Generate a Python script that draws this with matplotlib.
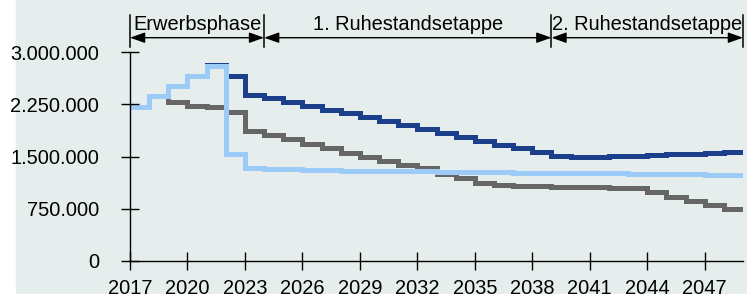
import matplotlib
import numpy as np

matplotlib.use("Agg")
import matplotlib.pyplot as plt  # noqa: E402
from matplotlib.patches import Rectangle  # noqa: E402
from matplotlib.ticker import FuncFormatter  # noqa: E402

plt.rcParams["font.family"] = ["Liberation Sans", "DejaVu Sans"]

# one value per year 2017..2048, step drawn to 2049 (values in millions)
years = list(range(2017, 2049))
light = [2.218, 2.376, 2.52, 2.66, 2.81, 1.54, 1.335, 1.325, 1.318, 1.312,
         1.306, 1.30, 1.297, 1.294, 1.291, 1.29, 1.286, 1.282, 1.279, 1.275,
         1.272, 1.269, 1.266, 1.264, 1.261, 1.258, 1.255, 1.252, 1.249, 1.246,
         1.243, 1.24]
dark = [2.218, 2.376, 2.52, 2.66, 2.815, 2.66, 2.39, 2.348, 2.281, 2.233,
        2.17, 2.123, 2.065, 2.008, 1.951, 1.895, 1.835, 1.782, 1.725, 1.672,
        1.62, 1.562, 1.509, 1.49, 1.495, 1.505, 1.515, 1.525, 1.535, 1.545,
        1.555, 1.57]
grey = [2.218, 2.376, 2.29, 2.23, 2.21, 2.14, 1.87, 1.807, 1.749, 1.682,
        1.62, 1.557, 1.495, 1.433, 1.375, 1.335, 1.245, 1.188, 1.125, 1.092,
        1.085, 1.078, 1.07, 1.063, 1.057, 1.05, 1.045, 0.985, 0.922, 0.862,
        0.803, 0.742]

phases = ["Erwerbsphase", "1. Ruhestandsetappe", "2. Ruhestandsetappe"]
phase_edges = [2017, 2024, 2039, 2049]
xticks = list(range(2017, 2048, 3))
yticks = [0, 750000, 1500000, 2250000, 3000000]

edges = years + [years[-1] + 1]
fs = 14.4

fig = plt.figure(figsize=(7.47, 2.94), dpi=100)
fig.patches.append(Rectangle((16 / 747, 0), 1, 1, transform=fig.transFigure,
                             color="#e6eeed", zorder=-10))
ax = fig.add_axes([130 / 747, 1 - 261 / 294, 613 / 747, (261 - 52.3) / 294])
ax.set_facecolor("none")

lw = 3.6
ax.stairs(np.array(grey) * 1e6, edges, baseline=None, color="#666666", lw=lw)
ax.stairs(np.array(dark) * 1e6, edges, baseline=None, color="#1b3f8b", lw=lw)
ax.stairs(np.array(light) * 1e6, edges, baseline=None, color="#9ccbf8", lw=lw)

ax.set_xlim(2017, 2049)
ax.set_ylim(0, 3000000)
ax.set_xticks(xticks)
ax.set_yticks(yticks)
ax.yaxis.set_major_formatter(FuncFormatter(lambda v, p: f"{int(v):,}".replace(",", ".")))
ax.tick_params(direction="inout", length=13.5, width=1, labelsize=fs, color="black")
ax.tick_params(axis="y", pad=15.5)
ax.tick_params(axis="x", pad=6.0)
for s in ("top", "right"):
    ax.spines[s].set_visible(False)
for s in ("left", "bottom"):
    ax.spines[s].set_linewidth(1)

# phase brackets above the plot
ybar = (3.076e6, 3.536e6)
yarr = 3.21e6
for x in phase_edges:
    ax.plot([x, x], ybar, color="black", lw=1.1, clip_on=False)
for name, a, b in zip(phases, phase_edges[:-1], phase_edges[1:]):
    ax.annotate("", xy=(b, yarr), xytext=(a, yarr), annotation_clip=False,
                arrowprops=dict(arrowstyle="<|-|>,head_length=0.9,head_width=0.32",
                                mutation_scale=10, color="black", lw=1,
                                shrinkA=0, shrinkB=0))
    ax.text((a + b) / 2, 3.32e6, name, ha="center", va="baseline",
            fontsize=fs, clip_on=False)

fig.savefig("out.png", dpi=100)
